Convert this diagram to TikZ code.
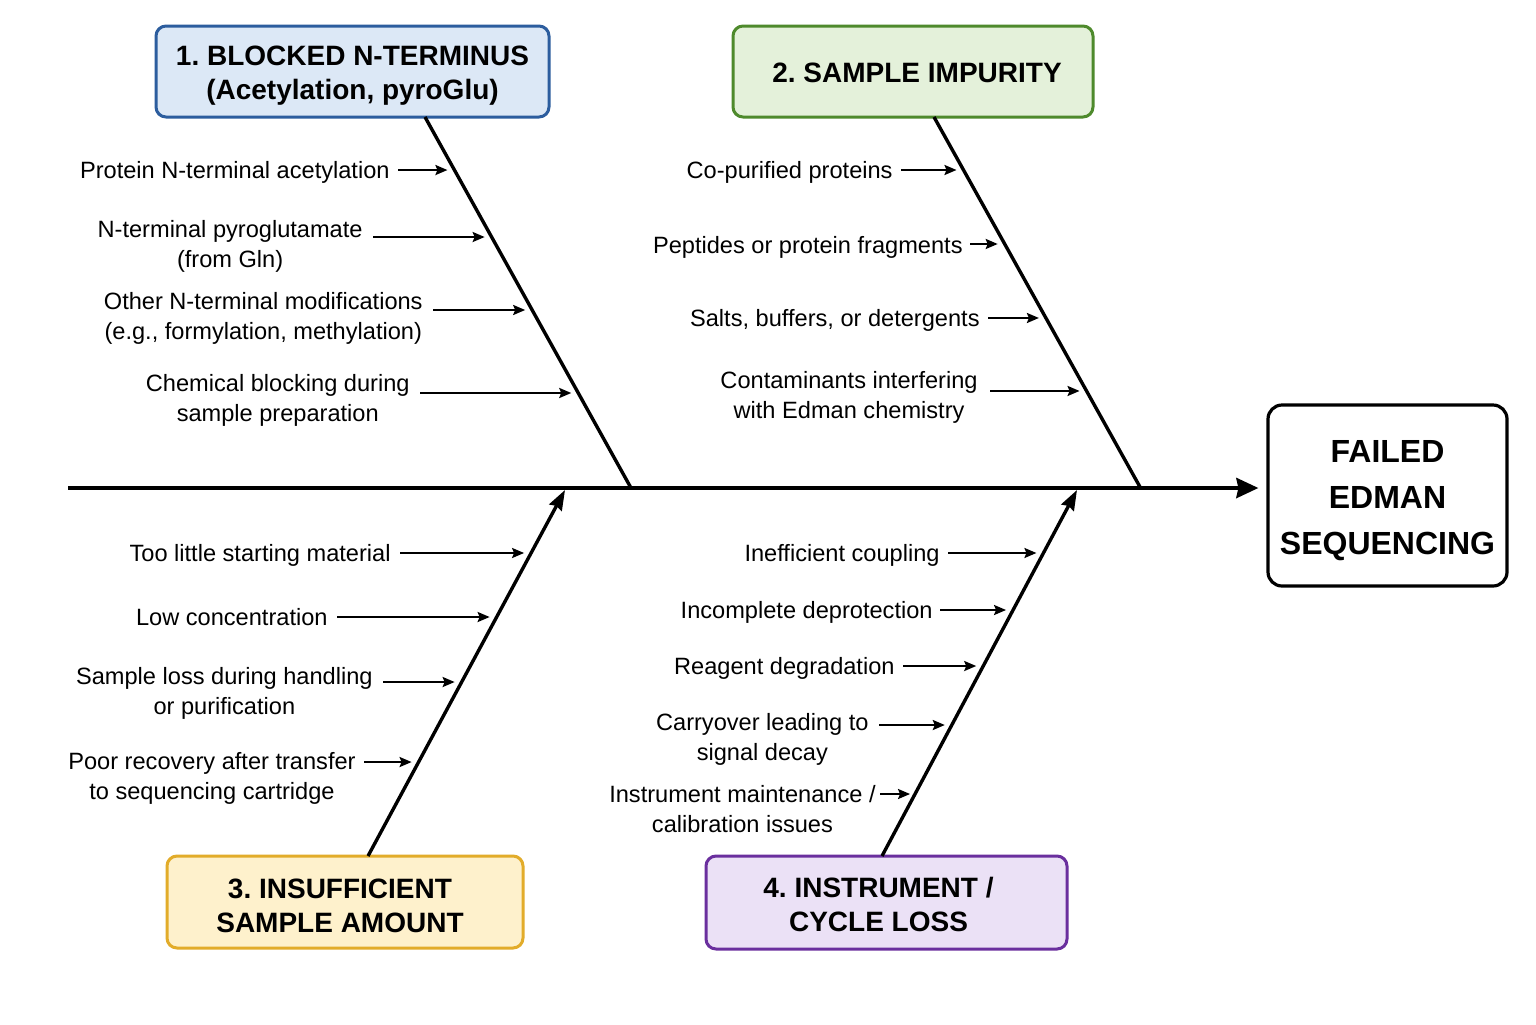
\documentclass[tikz,border=0pt]{standalone}
\usepackage{fontspec}
\setmainfont{Liberation Sans}
\usetikzlibrary{arrows.meta,calc}
\definecolor{fillA}{HTML}{DCE8F6}
\definecolor{drawA}{HTML}{2C5D9E}
\definecolor{fillB}{HTML}{E4F1DA}
\definecolor{drawB}{HTML}{4E8A2C}
\definecolor{fillC}{HTML}{FEF1CC}
\definecolor{drawC}{HTML}{E2AC2A}
\definecolor{fillD}{HTML}{EBE1F6}
\definecolor{drawD}{HTML}{6A2F9E}
\newcommand\boxlines[4]{\raisebox{-#1}[0pt][0pt]{\begin{tabular}{@{\hspace{#2}}c@{\hspace{#3}}}#4\end{tabular}}}
\frenchspacing
\begin{document}
\begin{tikzpicture}[x=0.5pt,y=-0.5pt,
  catbox/.style={draw, rounded corners=5pt, line width=1.5pt,
    font=\bfseries\fontsize{14}{17}\selectfont, inner sep=0pt},
  effectbox/.style={draw=black, line width=1.6pt, rounded corners=7pt,
    font=\bfseries\fontsize{16}{23}\selectfont, minimum width=119.5pt, minimum height=90.5pt, inner sep=0pt},
  lbl/.style={align=center, font=\fontsize{11.8}{15}\selectfont, inner sep=0pt},
  causearrow/.style={line width=1.1pt, -{Stealth[length=6pt,width=5pt,inset=1pt]}, shorten >=3.5pt},
  bone/.style={line width=1.7pt},
  spine/.style={line width=2pt}]
\useasboundingbox[fill=white] (0,0) rectangle (1536,1024);

% category boxes
\node[catbox, fill=fillA, draw=drawA, minimum width=196.5pt, minimum height=45.5pt] (c1) at (352.5,71.5) {\boxlines{5.85pt}{0pt}{0pt}{1. BLOCKED N-TERMINUS\\(Acetylation, pyroGlu)}};
\node[catbox, fill=fillB, draw=drawB, minimum width=180pt, minimum height=45.5pt] (c2) at (913,71.5) {\boxlines{5.85pt}{4pt}{0pt}{2. SAMPLE IMPURITY}};
\node[catbox, fill=fillC, draw=drawC, minimum width=178pt, minimum height=46pt] (c3) at (345,902) {\boxlines{6.85pt}{0pt}{5pt}{3. INSUFFICIENT\\SAMPLE AMOUNT}};
\node[catbox, fill=fillD, draw=drawD, minimum width=180.5pt, minimum height=46.5pt] (c4) at (886.5,902.5) {\boxlines{6.35pt}{0pt}{8pt}{4. INSTRUMENT /\\CYCLE LOSS}};

% effect
\node[effectbox] (eff) at (1387.5,495.5) {\boxlines{6.35pt}{0pt}{0pt}{FAILED\\EDMAN\\SEQUENCING}};

% spine
\coordinate (sp0) at (68,488);
\draw[spine, -{Stealth[length=11pt,width=10pt,inset=1pt]}, shorten >=4pt] (sp0) -- (sp0 -| eff.west);

% bones
\coordinate (b1s) at (425,117); \coordinate (b1e) at (631,488);
\coordinate (b2s) at (934,117); \coordinate (b2e) at (1140,487);
\coordinate (b3s) at (368,856); \coordinate (b3e) at (565,490);
\coordinate (b4s) at (882,856); \coordinate (b4e) at (1077,490);
\draw[bone] (b1s) -- (b1e);
\draw[bone] (b2s) -- (b2e);
\draw[bone, -{Stealth[length=10pt,width=7pt,inset=1pt]}] (b3s) -- (b3e);
\draw[bone, -{Stealth[length=10pt,width=7pt,inset=1pt]}] (b4s) -- (b4e);

% bone 1 causes
\coordinate (e11) at ($(b1s)!0.1429!(b1e)$);
\coordinate (e12) at ($(b1s)!0.3235!(b1e)$);
\coordinate (e13) at ($(b1s)!0.5202!(b1e)$);
\coordinate (e14) at ($(b1s)!0.7439!(b1e)$);
\node[lbl, anchor=base east] (l11) at (390,178) {Protein N-terminal acetylation};
\node[lbl, anchor=base east] (l12) at (363,267) {N-terminal pyroglutamate\\(from Gln)};
\node[lbl, anchor=base east] (l13) at (423,339) {Other N-terminal modifications\\(e.g., formylation, methylation)};
\node[lbl, anchor=base east] (l14) at (410,421) {Chemical blocking during\\sample preparation};
\draw[causearrow] (l11.east |- e11) ++(4pt,0) -- (e11);
\draw[causearrow] (l12.east |- e12) ++(5pt,0) -- (e12);
\draw[causearrow] (l13.east |- e13) ++(5pt,0) -- (e13);
\draw[causearrow] (l14.east |- e14) ++(5pt,0) -- (e14);

% bone 2 causes
\coordinate (e21) at ($(b2s)!0.1432!(b2e)$);
\coordinate (e22) at ($(b2s)!0.3432!(b2e)$);
\coordinate (e23) at ($(b2s)!0.5432!(b2e)$);
\coordinate (e24) at ($(b2s)!0.7405!(b2e)$);
\node[lbl, anchor=base east] (l21) at (893,178) {Co-purified proteins};
\node[lbl, anchor=base east] (l22) at (963,253) {Peptides or protein fragments};
\node[lbl, anchor=base east] (l23) at (980,326) {Salts, buffers, or detergents};
\node[lbl, anchor=base east] (l24) at (978,418) {Contaminants interfering\\with Edman chemistry};
\draw[causearrow] (l21.east |- e21) ++(4pt,0) -- (e21);
\draw[causearrow] (l22.east |- e22) ++(3.5pt,0) -- (e22);
\draw[causearrow] (l23.east |- e23) ++(4pt,0) -- (e23);
\draw[causearrow] (l24.east |- e24) ++(6pt,0) -- (e24);

% bone 3 causes
\coordinate (e31) at ($(b3s)!0.8279!(b3e)$);
\coordinate (e32) at ($(b3s)!0.6530!(b3e)$);
\coordinate (e33) at ($(b3s)!0.4754!(b3e)$);
\coordinate (e34) at ($(b3s)!0.2568!(b3e)$);
\node[lbl, anchor=base east] (l31) at (391,561) {Too little starting material};
\node[lbl, anchor=base east] (l32) at (328,625) {Low concentration};
\node[lbl, anchor=base east] (l33) at (373,714) {Sample loss during handling\\or purification};
\node[lbl, anchor=base east] (l34) at (356,799) {Poor recovery after transfer\\to sequencing cartridge};
\draw[causearrow] (l31.east |- e31) ++(4.5pt,0) -- (e31);
\draw[causearrow] (l32.east |- e32) ++(4.5pt,0) -- (e32);
\draw[causearrow] (l33.east |- e33) ++(5pt,0) -- (e33);
\draw[causearrow] (l34.east |- e34) ++(4pt,0) -- (e34);

% bone 4 causes
\coordinate (e41) at ($(b4s)!0.8279!(b4e)$);
\coordinate (e42) at ($(b4s)!0.6721!(b4e)$);
\coordinate (e43) at ($(b4s)!0.5191!(b4e)$);
\coordinate (e44) at ($(b4s)!0.3579!(b4e)$);
\coordinate (e45) at ($(b4s)!0.1694!(b4e)$);
\node[lbl, anchor=base east] (l41) at (940,561) {Inefficient coupling};
\node[lbl, anchor=base east] (l42) at (933,618) {Incomplete deprotection};
\node[lbl, anchor=base east] (l43) at (895,674) {Reagent degradation};
\node[lbl, anchor=base east] (l44) at (869,760) {Carryover leading to\\signal decay};
\node[lbl, anchor=base east] (l45) at (876,832) {Instrument maintenance /\\calibration issues};
\draw[causearrow] (l41.east |- e41) ++(4pt,0) -- (e41);
\draw[causearrow] (l42.east |- e42) ++(3.5pt,0) -- (e42);
\draw[causearrow] (l43.east |- e43) ++(4pt,0) -- (e43);
\draw[causearrow] (l44.east |- e44) ++(5pt,0) -- (e44);
\draw[causearrow, shorten >=2.5pt] (l45.east |- e45) ++(2pt,0) -- (e45);
\end{tikzpicture}
\end{document}
